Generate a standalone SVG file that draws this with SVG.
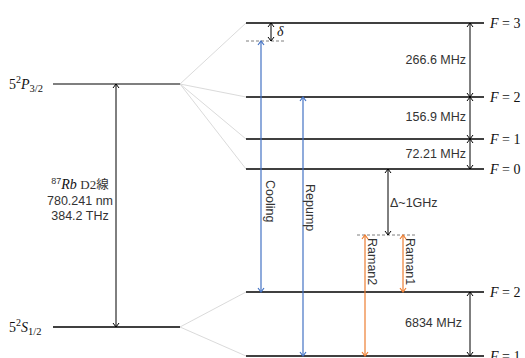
<svg xmlns="http://www.w3.org/2000/svg" width="525" height="358" viewBox="0 0 525 358">
<defs>
<marker id="ak" viewBox="-6 -5 7 10" refX="0" refY="0" markerWidth="7" markerHeight="10" markerUnits="userSpaceOnUse" orient="auto-start-reverse"><path d="M-4,-3 L0,0 L-4,3" fill="none" stroke="#000" stroke-width="1"/></marker>
<marker id="ab" viewBox="-6 -5 7 10" refX="0" refY="0" markerWidth="7" markerHeight="10" markerUnits="userSpaceOnUse" orient="auto-start-reverse"><path d="M-4,-3 L0,0 L-4,3" fill="none" stroke="#4472C4" stroke-width="1.2"/></marker>
<marker id="ao" viewBox="-6 -5 7 10" refX="0" refY="0" markerWidth="7" markerHeight="10" markerUnits="userSpaceOnUse" orient="auto-start-reverse"><path d="M-4,-3 L0,0 L-4,3" fill="none" stroke="#ED7D31" stroke-width="1.2"/></marker>
</defs>
<style>
.lvl{stroke:#000;stroke-width:1.3}
.fan{stroke:#d0d0d0;stroke-width:0.8;fill:none}
.blk{stroke:#000;stroke-width:1;marker-start:url(#ak);marker-end:url(#ak)}
.blu{stroke:#4472C4;stroke-width:1.2;marker-start:url(#ab);marker-end:url(#ab)}
.org{stroke:#ED7D31;stroke-width:1.2;marker-start:url(#ao);marker-end:url(#ao)}
.dash{stroke:#7f7f7f;stroke-width:1;stroke-dasharray:3,2}
.t{font-family:"Liberation Sans",Arial,sans-serif;font-size:12.5px;fill:#333}
.m{font-family:"Liberation Serif","Times New Roman",serif;font-size:14px;fill:#111}
.i{font-style:italic}
</style>
<g id="fans">
<path class="fan" d="M180,84 L246,23 M180,84 L246,97 M180,84 L246,139 M180,84 L246,169 M180,327 L246,292 M180,327 L246,356"/>
</g>
<g id="level-P32">
<line x1="53" y1="84" x2="180" y2="84" stroke="#7f7f7f" stroke-width="2"/>
<text class="m" x="9" y="89" font-size="15">5<tspan font-size="10" dy="-6">2</tspan><tspan class="i" dy="6">P</tspan><tspan font-size="10.5" dy="3">3/2</tspan></text>
</g>
<g id="level-S12">
<line x1="53" y1="327" x2="180" y2="327" stroke="#404040" stroke-width="2"/>
<text class="m" x="9" y="332" font-size="15">5<tspan font-size="10" dy="-6">2</tspan><tspan class="i" dy="6">S</tspan><tspan font-size="10.5" dy="3">1/2</tspan></text>
</g>
<g id="level-F3"><line class="lvl" x1="246" y1="23" x2="484" y2="23"/><text class="m" x="490" y="28"><tspan class="i">F</tspan> = 3</text></g>
<g id="level-F2e"><line class="lvl" x1="246" y1="97" x2="484" y2="97"/><text class="m" x="490" y="102"><tspan class="i">F</tspan> = 2</text></g>
<g id="level-F1e"><line class="lvl" x1="246" y1="139" x2="484" y2="139" stroke="#555"/><text class="m" x="490" y="144"><tspan class="i">F</tspan> = 1</text></g>
<g id="level-F0e"><line class="lvl" x1="246" y1="169" x2="484" y2="169"/><text class="m" x="490" y="174"><tspan class="i">F</tspan> = 0</text></g>
<g id="level-F2g"><line class="lvl" x1="246" y1="292" x2="484" y2="292" stroke="#333"/><text class="m" x="490" y="297"><tspan class="i">F</tspan> = 2</text></g>
<g id="level-F1g"><line class="lvl" x1="246" y1="356" x2="484" y2="356"/><text class="m" x="490" y="361"><tspan class="i">F</tspan> = 1</text></g>
<g id="virtual-levels">
<line class="dash" x1="246" y1="41" x2="286" y2="41" stroke="#333"/>
<line class="dash" x1="357" y1="235" x2="417" y2="235" stroke="#999"/>
</g>
<g id="connectors">
<line class="blk" x1="116" y1="84" x2="116" y2="327"/>
<line class="blk" x1="271" y1="23" x2="271" y2="41"/>
<line class="blk" x1="470" y1="23" x2="470" y2="97"/>
<line class="blk" x1="470" y1="97" x2="470" y2="139"/>
<line class="blk" x1="470" y1="139" x2="470" y2="169"/>
<line class="blk" x1="470" y1="292" x2="470" y2="356"/>
<line class="blk" x1="388" y1="169" x2="388" y2="235"/>
<line class="blu" x1="261" y1="41" x2="261" y2="292"/>
<line class="blu" x1="303" y1="97" x2="303" y2="356" stroke="#3a66b8" stroke-width="1.7"/>
<line class="org" x1="365" y1="235" x2="365" y2="356"/>
<line class="org" x1="403" y1="235" x2="403" y2="292"/>
</g>
<g id="labels">
<text class="m i" x="277" y="36">δ</text>
<text class="t" x="466" y="64" text-anchor="end">266.6 MHz</text>
<text class="t" x="466" y="121" text-anchor="end">156.9 MHz</text>
<text class="t" x="466" y="158" text-anchor="end">72.21 MHz</text>
<text class="t" x="462" y="327" text-anchor="end">6834 MHz</text>
<text class="t" x="390" y="207">Δ~1GHz</text>
<text class="t" transform="translate(266,180) rotate(90)" font-size="13">Cooling</text>
<text class="t" transform="translate(306,184) rotate(90)" font-size="13">Repump</text>
<text class="t" transform="translate(368,238) rotate(90)" font-size="13">Raman2</text>
<text class="t" transform="translate(406,238) rotate(90)" font-size="13">Raman1</text>
<text class="t" x="80" y="189" text-anchor="middle"><tspan font-size="9" dy="-5">87</tspan><tspan class="m i" font-size="13" dy="5">Rb</tspan> <tspan font-family="Liberation Serif,serif" font-size="13">D2</tspan><tspan font-family="Noto Sans CJK JP,sans-serif">線</tspan></text>
<text class="t" x="80" y="205" text-anchor="middle">780.241 nm</text>
<text class="t" x="80" y="220" text-anchor="middle">384.2 THz</text>
</g>
</svg>
